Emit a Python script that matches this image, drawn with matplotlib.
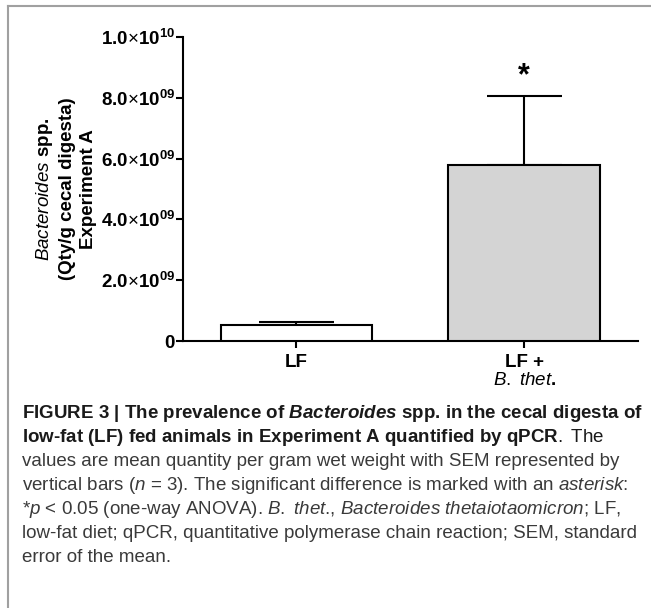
import matplotlib
matplotlib.use("Agg")
import matplotlib.pyplot as plt
from matplotlib.lines import Line2D

plt.rcParams['font.family'] = ['Liberation Sans', 'DejaVu Sans']
plt.rcParams['mathtext.fontset'] = 'custom'
plt.rcParams['mathtext.rm'] = 'Liberation Sans'
plt.rcParams['mathtext.it'] = 'Liberation Sans:italic'
plt.rcParams['mathtext.bf'] = 'Liberation Sans:bold'
plt.rcParams['mathtext.bfit'] = 'Liberation Sans:italic:bold'

# data
groups = ["LF", "LF +\n$\\mathit{B.}$ $\\mathit{thet}$."]
means = [0.53e9, 5.78e9]
sems = [0.085e9, 2.28e9]
colors = ["white", "#d4d4d4"]
yticks = [0, 2e9, 4e9, 6e9, 8e9, 1e10]
ytick_labels = ["0",
                r"$\mathbf{2.0}{\times}\mathbf{10}^{\mathbf{09}}$",
                r"$\mathbf{4.0}{\times}\mathbf{10}^{\mathbf{09}}$",
                r"$\mathbf{6.0}{\times}\mathbf{10}^{\mathbf{09}}$",
                r"$\mathbf{8.0}{\times}\mathbf{10}^{\mathbf{09}}$",
                r"$\mathbf{1.0}{\times}\mathbf{10}^{\mathbf{10}}$"]
star_y = 8.7e9

caption_lines = [
    (r"FIGURE 3 | The prevalence of $\mathbfit{Bacteroides}$ spp. in the cecal digesta of", "bold"),
    (r"low-fat (LF) fed animals in Experiment A quantified by qPCR$\mathrm{.\ The}$", "bold"),
    ("values are mean quantity per gram wet weight with SEM represented by", "normal"),
    (r"vertical bars ($\mathit{n}$ = 3). The significant difference is marked with an $\mathit{asterisk}$:", "normal"),
    (r"*$\mathit{p}$ < 0.05 (one-way ANOVA). $\mathit{B.}$ $\mathit{thet}$., $\mathit{Bacteroides}$ $\mathit{thetaiotaomicron}$; LF,", "normal"),
    ("low-fat diet; qPCR, quantitative polymerase chain reaction; SEM, standard", "normal"),
    ("error of the mean.", "normal"),
]

fig = plt.figure(figsize=(6.51, 6.08), dpi=100)
ax = fig.add_axes([0.2806, 0.4391, 0.6994, 0.5])

x = [0, 1]
ax.bar(x, means, width=0.667, color=colors, edgecolor="black", linewidth=1.5, zorder=3)
ax.errorbar(x, means, yerr=[[0, 0], sems], fmt="none", ecolor="black",
            elinewidth=1.5, capsize=27, capthick=1.5, zorder=2)
ax.text(1, star_y, "*", ha="center", va="center", fontsize=22, fontweight="bold")

ax.set_xlim(-0.5, 1.5)
ax.set_ylim(0, 1e10)
ax.set_xticks(x)
ax.set_xticklabels(groups, fontsize=13.5, fontweight="bold", linespacing=1.1)
ax.set_yticks(yticks)
ax.set_yticklabels(ytick_labels, fontsize=13.5, fontweight="bold")
ax.tick_params(direction="out", length=5, width=1.5)
ax.tick_params(axis="y", pad=0.5)
ax.tick_params(axis="x", pad=4)

for s in ["top", "right"]:
    ax.spines[s].set_visible(False)
for s in ["left", "bottom"]:
    ax.spines[s].set_linewidth(1.5)

ax.set_ylabel("$\\mathit{Bacteroides}$ spp.\n(Qty/g cecal digesta)\nExperiment A",
              fontsize=13.5, fontweight="bold", labelpad=3, linespacing=1.3)

# caption under the chart
y0 = 413
for i, (line, w) in enumerate(caption_lines):
    col = "#1a1a1a" if w == "bold" else "#3a3a3a"
    fig.text(22 / 651, 1 - (y0 + i * 24) / 608, line, fontsize=13.5, fontweight=w,
             color=col, ha="left", va="center")

# grey frame on the left and top
fig.add_artist(Line2D([8 / 651, 8 / 651], [0, 1 - 6 / 608], color="#a0a0a0", linewidth=1.5))
fig.add_artist(Line2D([8 / 651, 1], [1 - 6 / 608, 1 - 6 / 608], color="#a0a0a0", linewidth=1.5))

fig.savefig("out.png", dpi=100)
